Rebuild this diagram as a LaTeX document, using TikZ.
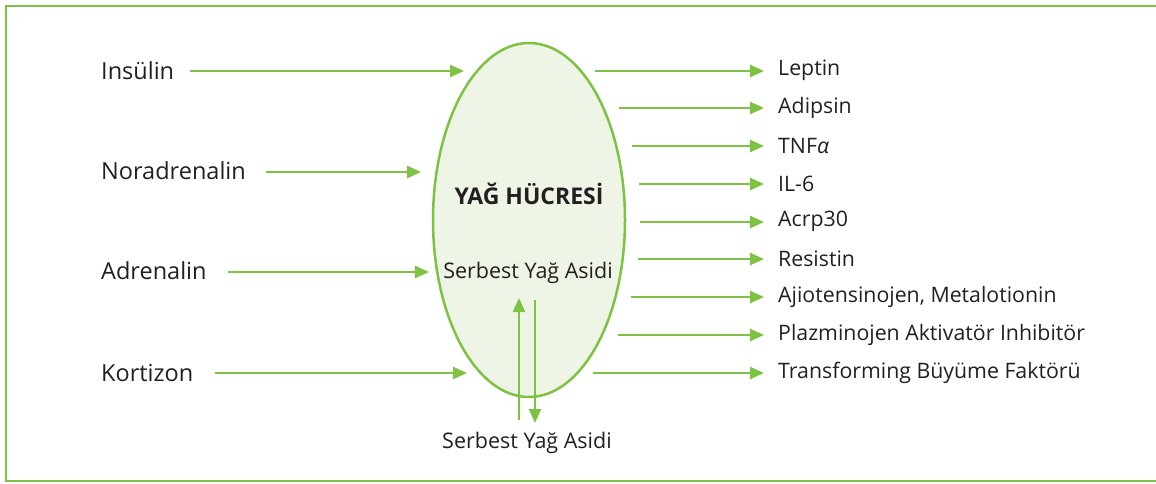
\documentclass[tikz,border=0pt]{standalone}
\usepackage{fontspec}
\setmainfont{Open Sans}
\usetikzlibrary{arrows.meta,shapes.geometric}
\definecolor{fgreen}{HTML}{7DC242}
\definecolor{cellfill}{HTML}{EEF5E6}
\definecolor{txt}{HTML}{231F20}
\tikzset{
  arr/.style={draw=fgreen, line width=2.4pt, -{Triangle[length=14pt,width=12pt]}},
  lbl/.style={anchor=west, inner sep=0pt, text=txt, font=\fontsize{23.5}{26}\selectfont},
  rlbl/.style={anchor=west, inner sep=0pt, text=txt, font=\fontsize{21.3}{24}\selectfont},
}
\begin{document}
\begin{tikzpicture}[x=1pt,y=-1pt]
\useasboundingbox (0,0) rectangle (1156,483);
\draw[fgreen, line width=2.5pt] (1160,6) -- (6,6) -- (6,481) -- (1160,481);
% cell
\node[ellipse, draw=fgreen, fill=cellfill, line width=2.5pt, minimum width=192pt, minimum height=354pt, inner sep=0pt] (cell) at (529,220) {};
\node[text=txt, font=\fontsize{23}{26}\selectfont\bfseries, inner sep=0pt] (title) at (529,194) {YAĞ HÜCRESİ};
\node[text=txt, font=\fontsize{21.5}{24}\selectfont, inner sep=0pt] (sya) at (528,273) {Serbest Yağ Asidi};
\node[text=txt, font=\fontsize{21.5}{24}\selectfont, inner sep=0pt] (syb) at (527,443) {Serbest Yağ Asidi};
% left labels
\node[lbl] (ins) at (101,71) {Insülin};
\node[lbl] (nor) at (101,171) {Noradrenalin};
\node[lbl] (adr) at (101,271) {Adrenalin};
\node[lbl] (kor) at (101,373) {Kortizon};
\coordinate (insS) at (190,71);
\coordinate (norS) at (266,172);
\coordinate (adrS) at (228,272);
\coordinate (korS) at (215,373);
\coordinate (insT) at (464,71);
\coordinate (norT) at (421,172);
\coordinate (adrT) at (429,272);
\coordinate (korT) at (467,373);
\draw[arr] (insS) -- (insT);
\draw[arr] (norS) -- (norT);
\draw[arr] (adrS) -- (adrT);
\draw[arr] (korS) -- (korT);
% vertical
\coordinate (upS) at (519,420);
\coordinate (upT) at (519,298);
\coordinate (dnS) at (535,300);
\coordinate (dnT) at (535,423);
\draw[arr] (upS) -- (upT);
\draw[arr] (dnS) -- (dnT);
% right labels
\foreach \name/\y/\sx/\t in {lep/71/595/Leptin, adi/108/619/Adipsin, tnf/146/632/TNF{\itshape α}, il/184/639/IL-6, acr/222/640/Acrp30, res/259/638/Resistin, aji/297/631/{Ajiotensinojen, Metalotionin}, pla/335/618/Plazminojen Aktivatör Inhibitör, tra/373/593/Transforming Büyüme Faktörü}{
  \node[rlbl] (\name) at (778,\y-0.5) {\t};
  \coordinate (\name S) at (\sx,\y);
  \coordinate (\name T) at (764,\y);
  \draw[arr] (\name S) -- (\name T);
}
\end{tikzpicture}
\end{document}
